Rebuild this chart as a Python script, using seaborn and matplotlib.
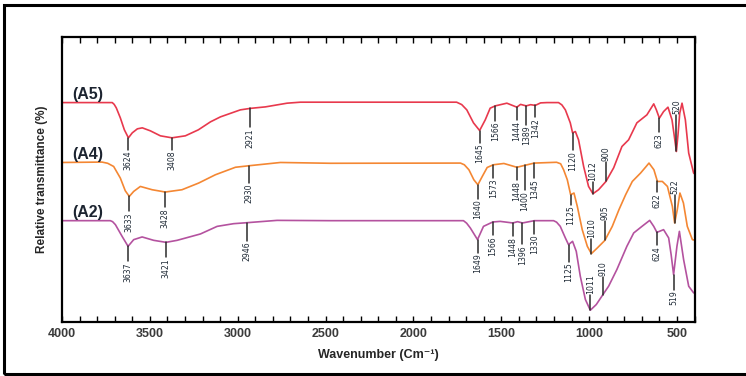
import matplotlib
matplotlib.use("Agg")
import matplotlib.pyplot as plt
import matplotlib.patches as mpatches
from matplotlib.ticker import MultipleLocator
import seaborn as sns
import pandas as pd
import numpy as np

# spectra (wavenumber in cm-1, stacked relative transmittance)
a5_wn = [4000, 3714, 3703, 3691, 3668, 3645, 3622, 3600, 3571, 3543, 3497, 3440, 3374, 3298, 3224, 3155, 3098,
         2985, 2928, 2842, 2719, 2643, 1754, 1725, 1696, 1658, 1623, 1591, 1563, 1534, 1468, 1411, 1390, 1358,
         1333, 1306, 1276, 1240, 1174, 1155, 1135, 1107, 1094, 1078, 1060, 1031, 1003, 978, 946, 904, 860, 813,
         775, 728, 671, 632, 617, 600, 576, 551, 528, 516, 503, 494, 484, 471, 452, 433, 405, 400]
a5_t = [219.3, 219.3, 217.5, 214, 204, 192, 184, 189, 193, 194, 191, 186, 184, 186, 192, 200, 205,
        212, 213.5, 215, 218.7, 219.7, 219.7, 217.3, 212, 199, 191.3, 202, 213.7, 216, 218.7, 214.7, 217.5, 216,
        217.2, 216.5, 219, 219.3, 219.3, 217, 212, 199, 189, 190.3, 182, 155.3, 135.3, 128, 132, 140.3, 154, 175.3,
        182, 199, 207, 218, 212, 203.7, 210.3, 214.7, 202, 187, 170.3, 187, 208.7, 218.7, 202, 168.7, 148.7, 148]

a4_wn = [4000, 3772, 3740, 3706, 3668, 3640, 3617, 3592, 3554, 3487, 3412, 3317, 3222, 3127, 3013, 2937, 2757,
         2472, 1732, 1710, 1684, 1656, 1633, 1608, 1580, 1545, 1485, 1411, 1369, 1312, 1185, 1162, 1145, 1124,
         1105, 1086, 1067, 1039, 1010, 987, 953, 910, 868, 830, 792, 754, 707, 678, 659, 631, 611, 583, 554,
         526, 513, 498, 483, 463, 441, 412, 400]
a4_t = [159.3, 159.7, 158.5, 155.3, 143.7, 131, 125.3, 130.3, 135.3, 132, 129.7, 132, 138.7, 147, 154.5, 156, 159.3,
        158.5, 158.7, 157, 152, 142, 137, 145.3, 154.3, 157, 158.3, 154.5, 156.3, 158.7, 159.5, 158, 152, 142,
        127, 128.7, 115.3, 92, 75.3, 68, 73.7, 81.3, 95.3, 112, 127, 140.3, 148.7, 154.7, 158.7, 152, 140.3, 140.3,
        135.3, 115.3, 98.7, 112, 128.7, 118.7, 95.3, 82, 81.5]

a2_wn = [4000, 3725, 3712, 3696, 3658, 3624, 3592, 3544, 3478, 3408, 3345, 3212, 3117, 3023, 2946, 2776, 2472,
         1715, 1697, 1676, 1635, 1601, 1548, 1506, 1434, 1407, 1379, 1312, 1202, 1185, 1164, 1135, 1117, 1094,
         1073, 1050, 1021, 993, 959, 921, 889, 842, 785, 746, 699, 655, 632, 614, 576, 547, 533, 519, 500,
         486, 462, 433, 405, 400]
a2_t = [101, 101, 100, 97, 85.3, 75.3, 82, 84.7, 81.3, 79.3, 81.3, 87.7, 95.3, 98, 99, 101.3, 101,
        101, 98.5, 93.7, 82, 95.3, 99.7, 100.3, 98.7, 100, 98.7, 101, 101, 99.5, 95.3, 83.7, 77, 80.3,
        70.3, 45.3, 22, 11.3, 17, 27, 35.3, 52, 75.3, 88.7, 95.3, 101.3, 95.3, 89.3, 92, 83.7, 67, 47, 75.3,
        90.3, 62, 35.3, 28.7, 28.5]

# peak labels: printed text and where the marker sits on the curve
a5_peaks = ["3624", "3408", "2921", "1645", "1566", "1444", "1389", "1342", "1120", "1012", "900", "623", "520"]
a5_peak_wn = [3622, 3374, 2928, 1623, 1534, 1411, 1358, 1306, 1094, 978, 904, 600, 503]
a4_peaks = ["3633", "3428", "2930", "1640", "1573", "1448", "1400", "1345", "1125", "1010", "905", "622", "522"]
a4_peak_wn = [3617, 3412, 2937, 1633, 1545, 1413, 1367, 1312, 1105, 987, 910, 611, 513]
a2_peaks = ["3637", "3421", "2946", "1649", "1566", "1448", "1396", "1330", "1125", "1011", "910", "624", "519"]
a2_peak_wn = [3624, 3408, 2946, 1635, 1548, 1434, 1379, 1312, 1117, 993, 921, 614, 519]

samples = ["(A5)", "(A4)", "(A2)"]
colors = ["#e8394d", "#f48733", "#b4529f"]


def main():
    sns.set_theme(style="white")
    plt.rcParams["font.family"] = ["Liberation Sans", "DejaVu Sans"]

    frames = []
    for name, wn, t in zip(samples, [a5_wn, a4_wn, a2_wn], [a5_t, a4_t, a2_t]):
        frames.append(pd.DataFrame({"wavenumber": wn, "transmittance": t, "sample": name}))
    df = pd.concat(frames, ignore_index=True)

    fig = plt.figure(figsize=(7.46, 3.76), dpi=100)
    ax = fig.add_axes([62 / 746, 54.5 / 376, 632.5 / 746, 284.5 / 376])
    sns.lineplot(data=df, x="wavenumber", y="transmittance", hue="sample",
                 palette=dict(zip(samples, colors)), estimator=None, sort=False,
                 linewidth=1.2, legend=False, ax=ax)
    for line in ax.get_lines():
        line.set_solid_joinstyle("round")

    # peak markers: stem from the curve, rotated number at its end
    stems = [
        [12, 12, 19, 12, 15, 13, 19, 12, 17, 12, 19, 14, 37],
        [15, 15, 17, 14, 13, 13, 25, 15, 10, 15, 19, 11, 28],
        [15, 15, 18, 13, 13, 13, 21, 13, 17, 15, 18, 13, 15],
    ]
    sides = [
        [-1] * 9 + [1, 1, -1, 1],
        [-1] * 9 + [1, 1, -1, 1],
        [-1] * 9 + [1, 1, -1, -1],
    ]
    series = [(a5_wn, a5_t, a5_peaks, a5_peak_wn), (a4_wn, a4_t, a4_peaks, a4_peak_wn),
              (a2_wn, a2_t, a2_peaks, a2_peak_wn)]
    for i, (wn, t, labels, pos) in enumerate(series):
        for lab, p, s, side in zip(labels, pos, stems[i], sides[i]):
            y0 = np.interp(p, wn[::-1], t[::-1])
            y1 = y0 + side * s
            ax.plot([p, p], [y0, y1], color="#2b2b2b", lw=1.1)
            ax.text(p, y1 + side * 1, lab, rotation=90, ha="center",
                    va="bottom" if side > 0 else "top", fontsize=5.6, color="#1f2a36",
                    family=["Liberation Sans Narrow", "DejaVu Sans"])
        ax.text(3940, t[0] + 8, samples[i], fontsize=11.5, fontweight="bold",
                color="#1c2430", ha="left", va="center")

    ax.set_xlim(4000, 400)
    ax.set_ylim(0, 285)
    ax.xaxis.set_minor_locator(MultipleLocator(100))
    ax.set_xticks([4000, 3500, 3000, 2500, 2000, 1500, 1000, 500])
    ax.set_yticks([])
    ax.tick_params(axis="x", which="both", direction="in", top=True, bottom=True,
                   length=4, width=1, color="black")
    ax.tick_params(axis="x", which="major", labelsize=9, labelcolor="#3a3a3a", pad=5)
    for lbl in ax.get_xticklabels():
        lbl.set_fontweight("bold")
    for sp in ax.spines.values():
        sp.set_visible(True)
        sp.set_color("black")
        sp.set_linewidth(1.6)

    ax.set_xlabel("Wavenumber (Cm\u207b\u00b9)", fontsize=9, fontweight="bold", labelpad=6)
    ax.set_ylabel("Relative transmittance (%)", fontsize=8.5, fontweight="bold", labelpad=10)

    # outer frame around the whole panel
    fig.patches.append(mpatches.Rectangle((4 / 746, 2 / 376), 1.0, 369 / 376, transform=fig.transFigure,
                                          fill=False, edgecolor="black", linewidth=2.2, clip_on=False))

    fig.savefig("out.png", dpi=100)
    plt.close(fig)


if __name__ == "__main__":
    main()
